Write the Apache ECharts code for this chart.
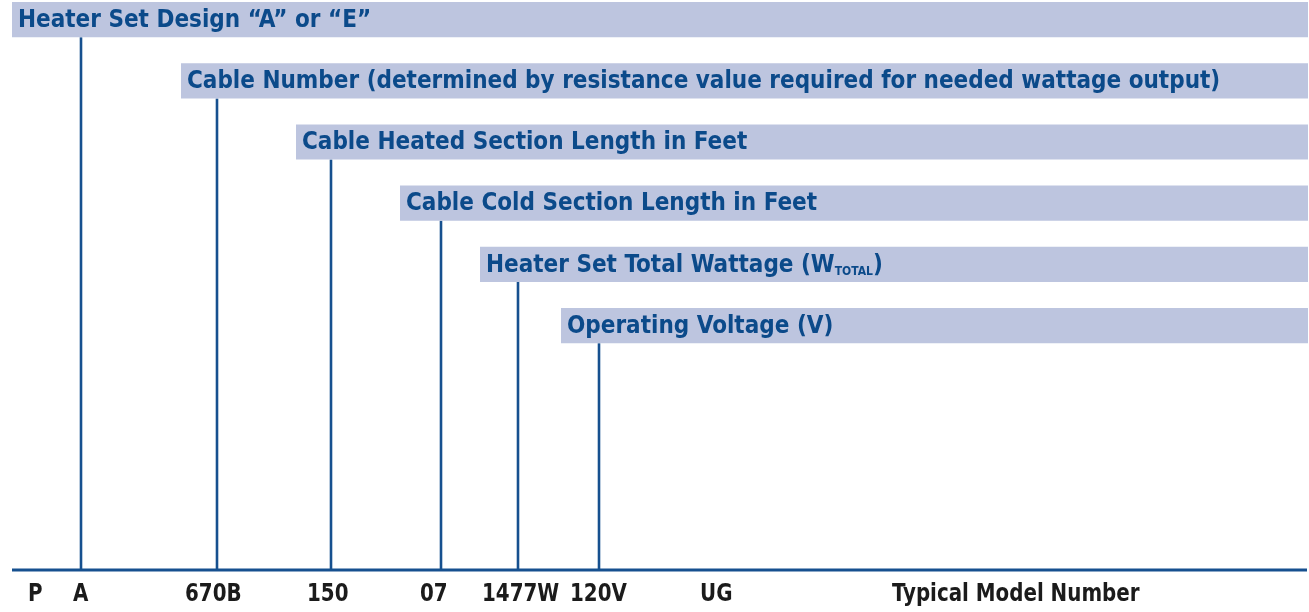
<!DOCTYPE html>
<html>
<head>
<meta charset="utf-8">
<script src="https://cdn.jsdelivr.net/npm/echarts@6/dist/echarts.min.js"></script>
<style>
  html, body { margin: 0; padding: 0; background: #fff; }
  #chart { width: 1309px; height: 612px; }
</style>
</head>
<body>
<div id="chart"></div>
<script>
// 标注条 (从上到下)
var bannerTitles = [
  'Heater Set Design \u201CA\u201D or \u201CE\u201D',
  'Cable Number (determined by resistance value required for needed wattage output)',
  'Cable Heated Section Length in Feet',
  'Cable Cold Section Length in Feet',
  'Heater Set Total Wattage (W{sub|TOTAL})',
  'Operating Voltage (V)'
];
var bannerStart = [12, 181, 296, 400, 480, 561];
var leaderX = [81, 217, 331, 441, 518, 599];

// 型号各段
var modelParts = ['P', 'A', '670B', '150', '07', '1477W', '120V', 'UG', 'Typical Model Number'];
var modelPartX = [28, 73, 185, 307, 420, 482, 570, 700, 892];

var BAND = 0.575;      // 标注条高度 (行)
var BASE_ROW = 9.28;   // 基线所在行
var LABEL_ROW = 9.68;
var RIGHT_END = 1308;

var myChart = echarts.init(document.getElementById('chart'));

var titleFont = 'bold 24px "DejaVu Sans Condensed", "Liberation Sans Narrow", sans-serif';

var option = {
  animation: false,
  grid: { left: 0, right: 0, top: 0, bottom: 0 },
  xAxis: { type: 'value', min: 0, max: 1309, show: false },
  yAxis: { type: 'value', min: -0.0327, max: 9.967, inverse: true, show: false },
  series: [
    {
      // 引线
      type: 'custom',
      data: leaderX.map(function (x, i) { return [x, i]; }),
      renderItem: function (params, api) {
        var top = api.coord([api.value(0), api.value(1) + BAND]);
        var bot = api.coord([api.value(0), BASE_ROW]);
        return {
          type: 'line',
          shape: { x1: top[0], y1: top[1], x2: bot[0], y2: bot[1] },
          style: { stroke: '#16508f', lineWidth: 2.6 }
        };
      },
      z: 1
    },
    {
      // 标注条
      type: 'custom',
      data: bannerStart.map(function (x, i) { return [x, i]; }),
      renderItem: function (params, api) {
        var i = params.dataIndex;
        var p0 = api.coord([api.value(0), api.value(1)]);
        var p1 = api.coord([RIGHT_END, api.value(1) + BAND]);
        return {
          type: 'group',
          children: [
            {
              type: 'rect',
              shape: { x: p0[0], y: p0[1], width: p1[0] - p0[0], height: p1[1] - p0[1] },
              style: { fill: '#bdc5df' }
            },
            {
              type: 'text',
              x: p0[0] + 6,
              y: (p0[1] + p1[1]) / 2 + 1,
              style: {
                text: bannerTitles[i],
                font: titleFont,
                fill: '#0b4a8a',
                verticalAlign: 'middle',
                align: 'left',
                rich: {
                  sub: {
                    font: 'bold 12px "DejaVu Sans Condensed", sans-serif',
                    fill: '#0b4a8a',
                    verticalAlign: 'bottom',
                    lineHeight: 12
                  }
                }
              }
            }
          ]
        };
      },
      z: 2
    },
    {
      // 基线
      type: 'custom',
      data: [[12, BASE_ROW]],
      renderItem: function (params, api) {
        var a = api.coord([api.value(0), api.value(1)]);
        var b = api.coord([1307, api.value(1)]);
        return {
          type: 'line',
          shape: { x1: a[0], y1: a[1], x2: b[0], y2: b[1] },
          style: { stroke: '#16508f', lineWidth: 3 }
        };
      },
      z: 1
    },
    {
      // 型号
      type: 'custom',
      data: modelPartX.map(function (x, i) { return [x, LABEL_ROW]; }),
      renderItem: function (params, api) {
        var p = api.coord([api.value(0), api.value(1)]);
        return {
          type: 'text',
          x: p[0],
          y: p[1],
          scaleX: 0.92,
          style: {
            text: modelParts[params.dataIndex],
            font: 'bold 24px "DejaVu Sans Condensed", "Liberation Sans Narrow", sans-serif',
            fill: '#1b1b1b',
            verticalAlign: 'middle',
            align: 'left'
          }
        };
      },
      z: 2
    }
  ]
};

myChart.setOption(option);
</script>
</body>
</html>
